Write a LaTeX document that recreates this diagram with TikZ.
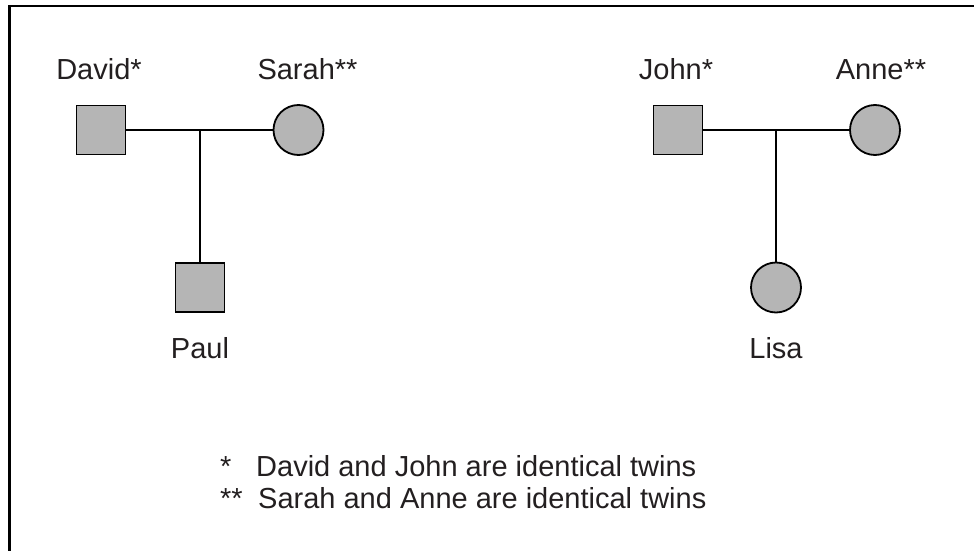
\documentclass[tikz,border=0pt]{standalone}
\usepackage{fontspec}
\setmainfont{Liberation Sans}
\usepackage{tikz}

\definecolor{inkgray}{HTML}{231F20}
\definecolor{fillgray}{HTML}{B5B5B5}

\begin{document}
\begin{tikzpicture}[x = 1pt, y = -1pt, font = \fontsize{29}{33}\selectfont, text = inkgray]
        \useasboundingbox (0,0) rectangle (974,551);
        \tikzset{
          malebox/.style = {draw = black, line width = 1.8pt, fill = fillgray,
                            minimum size = 49pt, inner sep = 0pt},
          femaledot/.style = {circle, draw = black, line width = 1.8pt, fill = fillgray,
                              minimum size = 50pt, inner sep = 0pt},
          namelabel/.style = {anchor = base, inner sep = 0pt},
          link/.style = {line width = 1.3pt, draw = black}
        }
        % frame (cut off at right and bottom)
        \draw[line width = 2.4pt] (9.5,551) -- (9.5,6) -- (974,6);
        % first family
        \node[malebox] (david) at (101,130) {};
        \node[femaledot] (sarah) at (298.5,130) {};
        \node[malebox] (paul) at (200,287.5) {};
        \node[namelabel] (davidname) at (99,79) {David*};
        \node[namelabel] (sarahname) at (307.5,79) {Sarah**};
        \node[namelabel] (paulname) at (200,358) {Paul};
        \draw[link] (david.east) -- (sarah.west);
        \draw[link] (paul.north |- david.east) -- (paul.north);
        % second family
        \node[malebox] (john) at (678,130) {};
        \node[femaledot] (anne) at (875,130) {};
        \node[femaledot] (lisa) at (776,287.5) {};
        \node[namelabel] (johnname) at (676,79) {John*};
        \node[namelabel] (annename) at (881,79) {Anne**};
        \node[namelabel] (lisaname) at (776,358) {Lisa};
        \draw[link] (john.east) -- (anne.west);
        \draw[link] (lisa.north |- john.east) -- (lisa.north);
        % key
        \node[namelabel, anchor = base west] (starone) at (220,476) {*};
        \node[namelabel, anchor = base west] (keyone) at (256,476) {David and John are identical twins};
        \node[namelabel, anchor = base west] (startwo) at (220,508) {**};
        \node[namelabel, anchor = base west] (keytwo) at (258,508) {Sarah and Anne are identical twins};
      \end{tikzpicture}
\end{document}
